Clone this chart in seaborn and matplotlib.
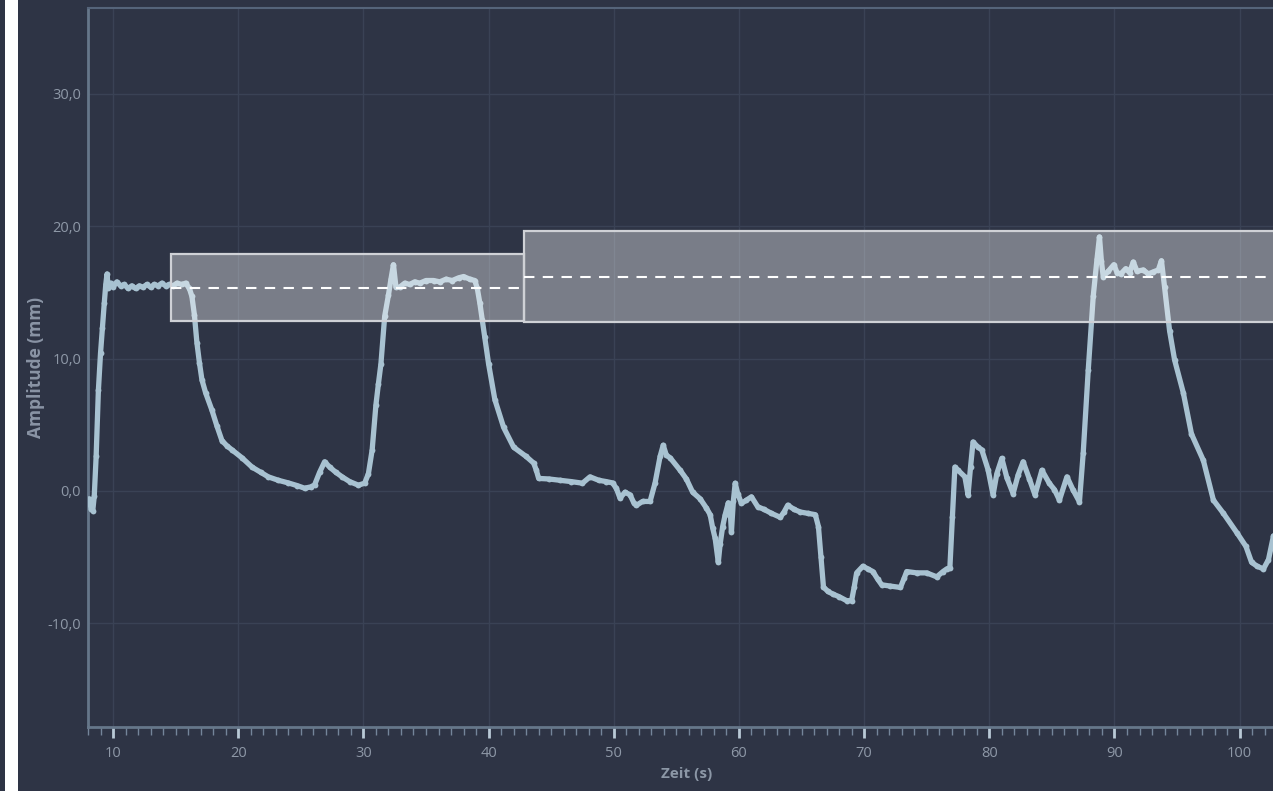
import matplotlib
matplotlib.use("Agg")
import matplotlib.pyplot as plt
from matplotlib.patches import Rectangle
from matplotlib.ticker import MultipleLocator, FuncFormatter
import seaborn as sns
import pandas as pd

# Measured displacement trace
zeit = [
    8.1, 8.25, 8.38, 8.5, 8.65, 8.83, 9.0, 9.15, 9.3, 9.42, 9.52, 9.62, 9.8,
    10.0, 10.3, 10.6, 10.9, 11.2, 11.5, 11.8, 12.1, 12.4, 12.7, 13.0, 13.3,
    13.6, 13.9, 14.2, 14.5, 14.8, 15.1, 15.5, 15.8, 16.1, 16.3, 16.5, 16.7,
    16.9, 17.1, 17.4, 17.9, 18.3, 18.7, 19.1, 19.5, 20.3, 21.1, 21.8, 22.4,
    23.2, 24.0, 24.7, 25.3, 25.8, 26.1, 26.5, 26.9, 27.3, 27.8, 28.3, 28.9,
    29.6, 30.1, 30.4, 30.7, 31.0, 31.2, 31.4, 31.7, 32.0, 32.2, 32.4, 32.6,
    32.9, 33.3, 33.7, 34.1, 34.5, 35.0, 35.6, 36.1, 36.6, 37.1, 37.6, 38.0,
    38.5, 38.9, 39.1, 39.3, 39.5, 39.7, 40.0, 40.5, 41.2, 42.0, 43.0, 43.6,
    43.8, 44.0, 44.8, 45.7, 46.6, 47.5, 48.1, 48.8, 49.4, 49.9, 50.2, 50.5,
    50.9, 51.3, 51.6, 51.8, 52.3, 52.9, 53.3, 53.7, 53.95, 54.2, 54.5, 55.3,
    55.8, 56.3, 56.9, 57.4, 57.7, 57.9, 58.1, 58.35, 58.5, 58.7, 58.9, 59.15,
    59.3, 59.4, 59.55, 59.7, 59.9, 60.2, 60.6, 61.0, 61.5, 62.0, 62.6, 63.3,
    63.6, 63.9, 64.4, 64.9, 65.5, 66.1, 66.35, 66.55, 66.75, 67.1, 67.5,
    68.0, 68.6, 69.0, 69.2, 69.4, 69.9, 70.3, 70.7, 71.1, 71.4, 72.1, 72.9,
    73.2, 73.4, 74.2, 75.0, 75.8, 76.3, 76.6, 76.85, 77.05, 77.25, 77.5,
    78.05, 78.3, 78.5, 78.7, 79.1, 79.4, 79.9, 80.3, 80.6, 81.0, 81.4, 81.9,
    82.3, 82.7, 83.2, 83.65, 84.2, 84.8, 85.2, 85.6, 86.2, 86.7, 87.2, 87.5,
    87.9, 88.3, 88.6, 88.8, 88.95, 89.1, 89.5, 89.95, 90.2, 90.5, 90.9, 91.2,
    91.5, 91.8, 92.3, 92.7, 93.1, 93.5, 93.75, 94.0, 94.4, 94.8, 95.5, 96.15,
    97.1, 97.9, 98.7, 99.8, 100.5, 100.95, 101.4, 101.9, 102.3, 102.7,
]
amplitude = [
    -0.6, -1.4, -1.5, -0.4, 2.6, 7.6, 10.4, 12.3, 14.2, 15.6, 16.4, 15.3, 15.7,
    15.4, 15.8, 15.5, 15.6, 15.3, 15.5, 15.3, 15.5, 15.4, 15.6, 15.4, 15.6,
    15.5, 15.7, 15.5, 15.6, 15.5, 15.7, 15.6, 15.7, 15.3, 14.7, 13.3, 11.2,
    9.7, 8.4, 7.4, 6.1, 4.9, 3.8, 3.4, 3.1, 2.5, 1.8, 1.4, 1.06,
    0.8, 0.6, 0.4, 0.2, 0.3, 0.45, 1.4, 2.2, 1.8, 1.4, 1.06, 0.7,
    0.43, 0.58, 1.3, 3.1, 6.5, 8.1, 9.6, 13.2, 14.8, 16.0, 17.1, 15.4,
    15.4, 15.7, 15.6, 15.8, 15.7, 15.9, 15.9, 15.8, 16.0, 15.9, 16.1, 16.2,
    16.0, 15.9, 15.3, 14.2, 12.9, 11.6, 9.6, 6.9, 4.8, 3.3, 2.6, 2.1,
    1.6, 0.94, 0.9, 0.8, 0.7, 0.58, 1.06, 0.8, 0.7, 0.6, 0.2, -0.55,
    -0.1, -0.3, -0.9, -1.1, -0.8, -0.8, 0.6, 2.6, 3.45, 2.7, 2.5, 1.56,
    0.9, -0.1, -0.6, -1.3, -1.8, -2.8, -3.6, -5.4, -4.0, -2.7, -1.8, -0.9,
    -1.5, -3.1, -0.8, 0.58, -0.2, -0.95, -0.7, -0.45, -1.2, -1.4, -1.7, -2.0,
    -1.6, -1.08, -1.4, -1.6, -1.7, -1.8, -2.7, -5.0, -7.26, -7.6, -7.8,
    -8.0, -8.3, -8.3, -7.3, -6.2, -5.7, -5.9, -6.1, -6.7, -7.1, -7.2, -7.3,
    -6.6, -6.1, -6.2, -6.2, -6.5, -6.1, -5.9, -5.8, -2.0, 1.8, 1.56,
    1.06, -0.3, 1.8, 3.7, 3.3, 3.1, 1.6, -0.3, 1.3, 2.45, 1.0, -0.2,
    1.2, 2.2, 0.9, -0.3, 1.56, 0.56, 0.1, -0.7, 1.06, 0.05, -0.83, 2.85,
    9.1, 14.7, 17.5, 19.2, 17.4, 16.2, 16.6, 17.1, 16.5, 16.4, 16.8, 16.5,
    17.3, 16.6, 16.7, 16.4, 16.55, 16.7, 17.4, 15.4, 12.1, 9.9, 7.4, 4.3,
    2.3, -0.7, -1.7, -3.2, -4.2, -5.4, -5.7, -5.9, -5.2, -3.4,
]

# Hold phases: start/end time, lower/upper band and median
phase_start = [14.63, 42.86]
phase_end = [42.86, 110.0]
phase_low = [12.85, 12.73]
phase_high = [17.92, 19.65]
phase_median = [15.37, 16.2]

y_ticks = [-10, 0, 10, 20, 30]

BG = "#2e3445"
TRACE = "#a8c2d1"
SPINE = "#66778a"
TEXT = "#8e98a7"

sns.set_theme(style="dark")
plt.rcParams["font.family"] = ["Open Sans", "DejaVu Sans"]

fig = plt.figure(figsize=(12.73, 7.91), dpi=100, facecolor=BG)
ax = fig.add_axes([88 / 1273, 1 - 727 / 791, (1286 - 88) / 1273, (727 - 8) / 791])
ax.set_facecolor(BG)

# narrow side strip on the left edge
fig.patches.append(Rectangle((5 / 1273, 0), 13 / 1273, 1, transform=fig.transFigure,
                             facecolor="white", edgecolor="none", zorder=-1))

df = pd.DataFrame({"Zeit": zeit, "Amplitude": amplitude})
sns.lineplot(data=df, x="Zeit", y="Amplitude", ax=ax, estimator=None, sort=False,
             color=TRACE, linewidth=3.8, marker="o", markersize=4.2,
             markeredgewidth=0, zorder=3)

for x0, x1, lo, hi, med in zip(phase_start, phase_end, phase_low, phase_high, phase_median):
    ax.add_patch(Rectangle((x0, lo), x1 - x0, hi - lo, facecolor=(1, 1, 1, 0.36),
                           edgecolor="#cfd1d6", linewidth=1.6, zorder=4))
    ax.plot([x0, x1], [med, med], color="white", linewidth=1.5,
            dashes=(5, 4), zorder=5)

ax.set_xlim(8.0, 103.7)
ax.set_ylim(-17.85, 36.5)

ax.xaxis.set_major_locator(MultipleLocator(10))
ax.xaxis.set_minor_locator(MultipleLocator(1))
ax.set_yticks(y_ticks)
ax.yaxis.set_major_formatter(FuncFormatter(lambda v, p: f"{v:.1f}".replace(".", ",")))

ax.grid(True, which="major", color="#3a4255", linewidth=1.0)
ax.set_axisbelow(True)

for side in ("left", "bottom", "top"):
    ax.spines[side].set_visible(True)
    ax.spines[side].set_color(SPINE)
    ax.spines[side].set_linewidth(2.0)
ax.spines["top"].set_color("#55647a")
ax.spines["top"].set_linewidth(1.5)
ax.spines["right"].set_visible(False)

ax.tick_params(axis="x", which="major", direction="out", length=8, width=2,
               color="#b9c9d6", labelcolor=TEXT, labelsize=10.5, pad=6, bottom=True)
ax.tick_params(axis="x", which="minor", direction="out", length=5.5, width=1,
               color="#74859a", bottom=True)
ax.tick_params(axis="y", which="major", length=0, labelcolor=TEXT, labelsize=10.5, pad=5)

ax.set_xlabel("Zeit (s)", color="#8c97a6", fontsize=11, fontweight="bold", labelpad=4)
ax.set_ylabel("Amplitude (mm)", color="#8a94a5", fontsize=12.5, fontweight="bold", labelpad=2)

fig.savefig("out.png", dpi=100, facecolor=BG)
